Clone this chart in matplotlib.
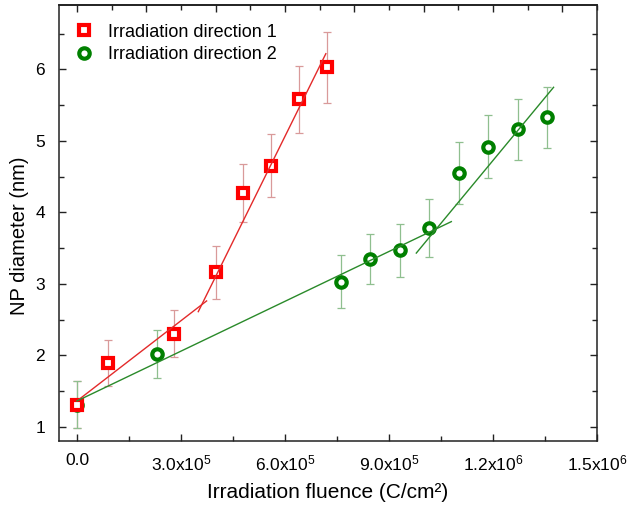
import matplotlib
matplotlib.use("Agg")
import matplotlib.pyplot as plt
import numpy as np
from matplotlib.ticker import MultipleLocator, FuncFormatter

plt.rcParams['font.family'] = ['Liberation Sans', 'DejaVu Sans']
plt.rcParams['mathtext.fontset'] = 'custom'
plt.rcParams['mathtext.rm'] = 'Liberation Sans'
plt.rcParams['mathtext.default'] = 'regular'

# direction 1 (red squares)
x1 = [0.0, 0.9e5, 2.8e5, 4.0e5, 4.78e5, 5.59e5, 6.40e5, 7.20e5]
y1 = [1.31, 1.89, 2.30, 3.16, 4.27, 4.65, 5.58, 6.03]
e1 = [0.33, 0.32, 0.33, 0.37, 0.41, 0.44, 0.47, 0.50]

# direction 2 (green circles)
x2 = [0.0, 2.3e5, 7.62e5, 8.46e5, 9.32e5, 10.17e5, 11.03e5, 11.87e5, 12.71e5, 13.55e5]
y2 = [1.31, 2.02, 3.03, 3.35, 3.47, 3.78, 4.55, 4.92, 5.16, 5.33]
e2 = [0.33, 0.34, 0.37, 0.35, 0.37, 0.40, 0.43, 0.44, 0.43, 0.43]

# linear fit segments (start, end)
fit1a_x, fit1a_y = [0.0, 3.74e5], [1.36, 2.76]
fit1b_x, fit1b_y = [3.50e5, 7.18e5], [2.61, 6.22]
fit2a_x, fit2a_y = [0.0, 10.8e5], [1.36, 3.87]
fit2b_x, fit2b_y = [9.79e5, 13.75e5], [3.43, 5.75]

labels = ["Irradiation direction 1", "Irradiation direction 2"]

red = '#ff0000'
green = '#008000'

fig = plt.figure(figsize=(6.27, 5.11), dpi=100)
ax = fig.add_axes([0.094, 0.137, 0.858, 0.853])

# error bars (behind markers)
ax.errorbar(x1, y1, yerr=e1, fmt='none', ecolor='#d99a9a', elinewidth=0.9,
            capsize=3, capthick=0.9, zorder=1)
ax.errorbar(x2, y2, yerr=e2, fmt='none', ecolor='#8fbf8f', elinewidth=0.9,
            capsize=3, capthick=0.9, zorder=1)

# markers
h2, = ax.plot(x2, y2, 'o', ms=7.5, mfc='white', mec=green, mew=3.0,
              label=labels[1], zorder=2)
h1, = ax.plot(x1, y1, 's', ms=7.5, mfc='white', mec=red, mew=3.0,
              label=labels[0], zorder=2)

# fit lines
ax.plot(fit1a_x, fit1a_y, color='#e32a2a', lw=1.0, zorder=3)
ax.plot(fit1b_x, fit1b_y, color='#e32a2a', lw=1.0, zorder=3)
ax.plot(fit2a_x, fit2a_y, color='#2a8a2a', lw=1.0, zorder=3)
ax.plot(fit2b_x, fit2b_y, color='#2a8a2a', lw=1.0, zorder=3)

ax.set_xlim(-0.52e5, 1.5e6)
ax.set_ylim(0.8, 6.9)

def fmt(v, pos):
    if abs(v) < 1:
        return "0.0"
    e = int(np.floor(np.log10(abs(v))))
    return "%.1fx10$^{%d}$" % (v / 10**e, e)

ax.xaxis.set_major_locator(MultipleLocator(3e5))
ax.xaxis.set_minor_locator(MultipleLocator(1.5e5))
ax.xaxis.set_major_formatter(FuncFormatter(fmt))
ax.yaxis.set_major_locator(MultipleLocator(1))
ax.yaxis.set_minor_locator(MultipleLocator(0.5))

ax.tick_params(which='both', direction='in', labelsize=12.5, color='#222222')
ax.tick_params(axis='y', which='both', right=True)
ax.tick_params(which='major', length=5, width=1.0)
ax.tick_params(which='minor', length=3.5, width=1.0)
ax.tick_params(axis='x', pad=9)
ax.tick_params(axis='y', pad=10)

# top axis has its own tick spacing
top = ax.secondary_xaxis('top')
top.xaxis.set_major_locator(MultipleLocator(2e5))
top.xaxis.set_minor_locator(MultipleLocator(1e5))
top.tick_params(which='both', direction='in', labeltop=False, color='#222222', width=1.0)
top.tick_params(which='major', length=5)
top.tick_params(which='minor', length=3.5)

for s in ax.spines.values():
    s.set_linewidth(1.1)
    s.set_color('#222222')
top.spines['top'].set_linewidth(1.1)

ax.set_xlabel("Irradiation fluence (C/cm²)", fontsize=15, labelpad=7)
ax.set_ylabel("NP diameter (nm)", fontsize=14.5)
ax.yaxis.set_label_coords(-0.056, 0.47)

ax.legend(handles=[h1, h2], loc='upper left', bbox_to_anchor=(0.0, 0.995),
          frameon=False, fontsize=13, handlelength=1.0, handletextpad=0.8,
          labelspacing=0.3, borderaxespad=0.5)

fig.savefig("out.png", dpi=100)
